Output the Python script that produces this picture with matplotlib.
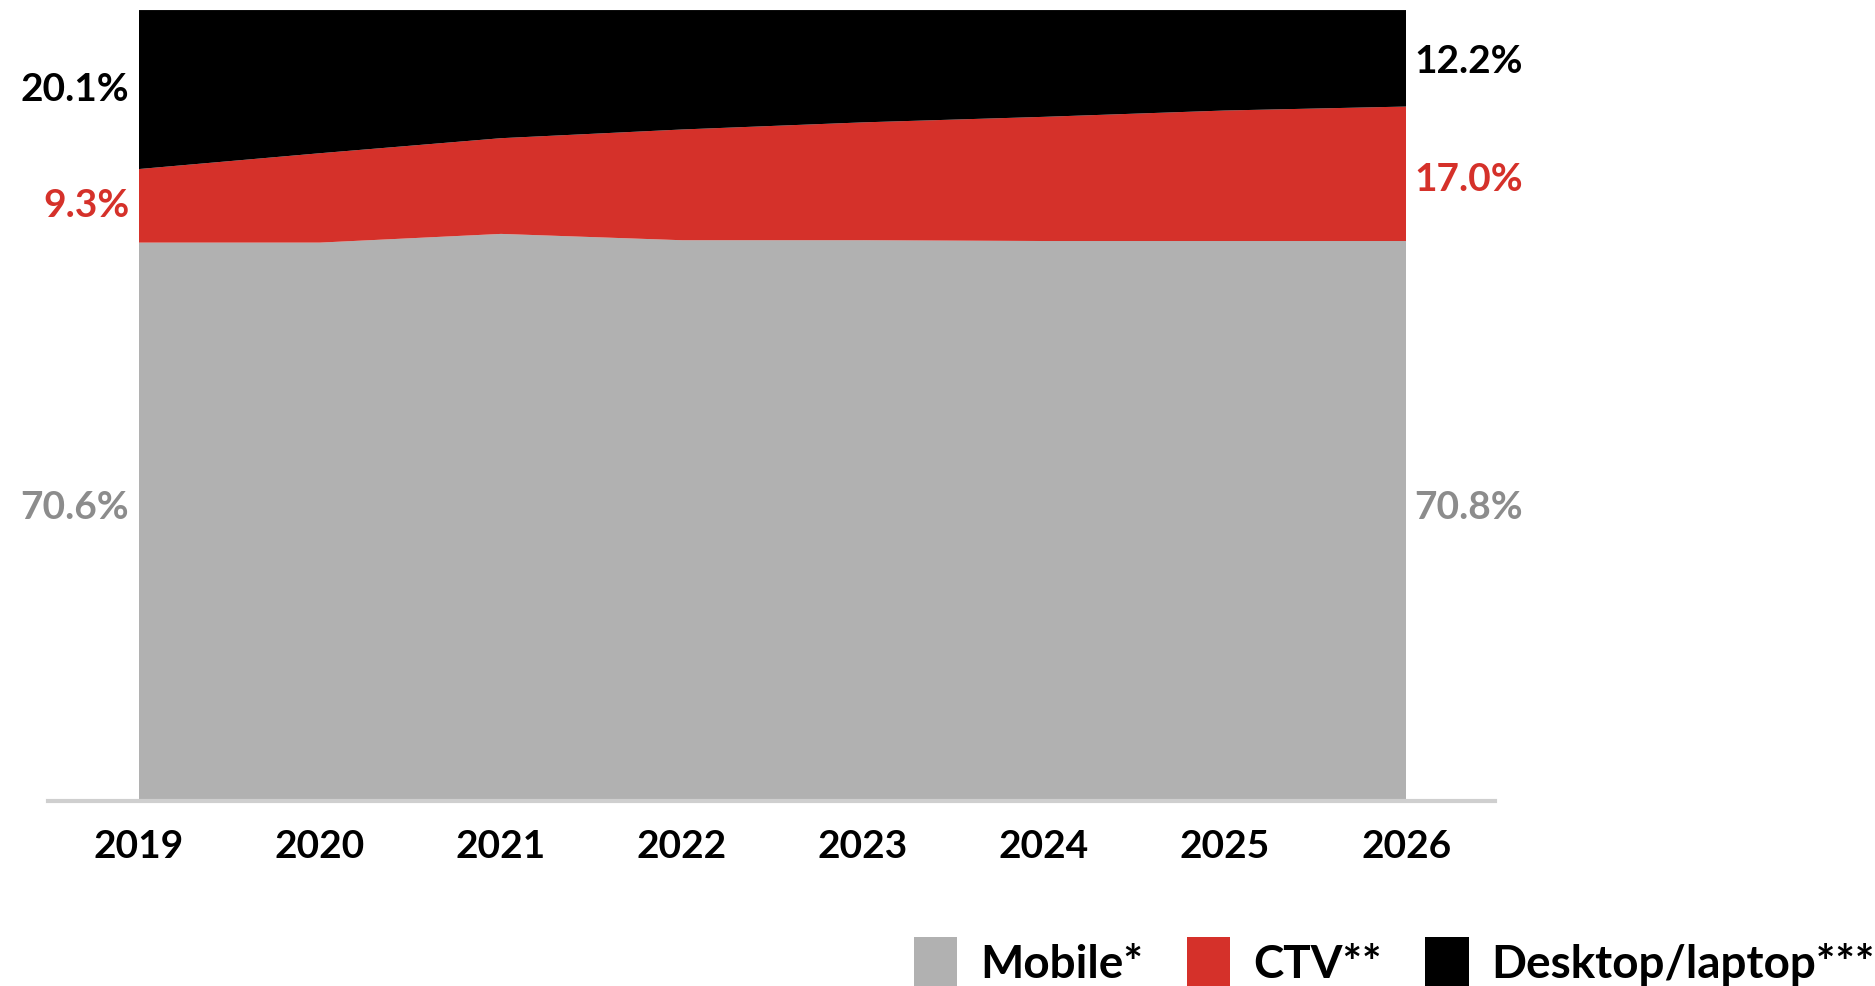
import numpy as np
import matplotlib
matplotlib.use("Agg")
import matplotlib.pyplot as plt
from matplotlib.patches import Patch

plt.rcParams['font.family'] = ['Lato', 'DejaVu Sans']

years = [2019, 2020, 2021, 2022, 2023, 2024, 2025, 2026]
mobile = [70.6, 70.6, 71.7, 70.9, 70.9, 70.8, 70.8, 70.8]
ctv = [9.3, 11.3, 12.1, 14.0, 14.9, 15.7, 16.5, 17.0]
desktop = [20.1, 18.1, 16.2, 15.1, 14.2, 13.5, 12.7, 12.2]

series_names = ["Mobile*", "CTV**", "Desktop/laptop***"]
colors = ["#b1b1b1", "#d5312a", "#000000"]
label_colors = ["#8c8c8c", "#d5312a", "#000000"]

fig = plt.figure(figsize=(18.75, 9.86), dpi=100)
ax = fig.add_axes([0.0741, 0.1876, 0.6758, 0.8022])

ax.stackplot(years, mobile, ctv, desktop, colors=colors, linewidth=0)
ax.set_xlim(years[0], years[-1])
ax.set_ylim(0, 100)

# baseline runs a bit past the area on both sides
ax.axhline(0, xmin=-0.072, xmax=1.07, color="#cfcfcf", lw=3, clip_on=False)

for s in ax.spines.values():
    s.set_visible(False)
ax.set_yticks([])
ax.set_xticks(years)
ax.set_xticklabels([str(y) for y in years], fontsize=28, fontweight='bold')
ax.tick_params(axis='x', length=0, pad=20)

# start / end share labels, nudged a little off the band centres
data = [mobile, ctv, desktop]
left_dy = [10, 0, 0]
right_dy = [10, -4, -2]
for i, vals in enumerate(data):
    base0 = sum(d[0] for d in data[:i])
    base1 = sum(d[-1] for d in data[:i])
    ax.annotate(f"{vals[0]:.1f}%", (years[0], base0 + vals[0] / 2),
                xytext=(-7, left_dy[i]), textcoords='offset points', ha='right', va='center',
                fontsize=28, fontweight='bold', color=label_colors[i])
    ax.annotate(f"{vals[-1]:.1f}%", (years[-1], base1 + vals[-1] / 2),
                xytext=(6, right_dy[i]), textcoords='offset points', ha='left', va='center',
                fontsize=28, fontweight='bold', color=label_colors[i])

handles = [Patch(facecolor=c, edgecolor='none') for c in colors]
fig.legend(handles, series_names, loc='center right', bbox_to_anchor=(1.0, 0.024),
           ncol=3, frameon=False, prop={'weight': 'bold', 'size': 33},
           handlelength=0.95, handleheight=1.3, handletextpad=0.5, columnspacing=0.95,
           borderaxespad=0, borderpad=0)

fig.savefig("out.png", dpi=100, facecolor='white')
